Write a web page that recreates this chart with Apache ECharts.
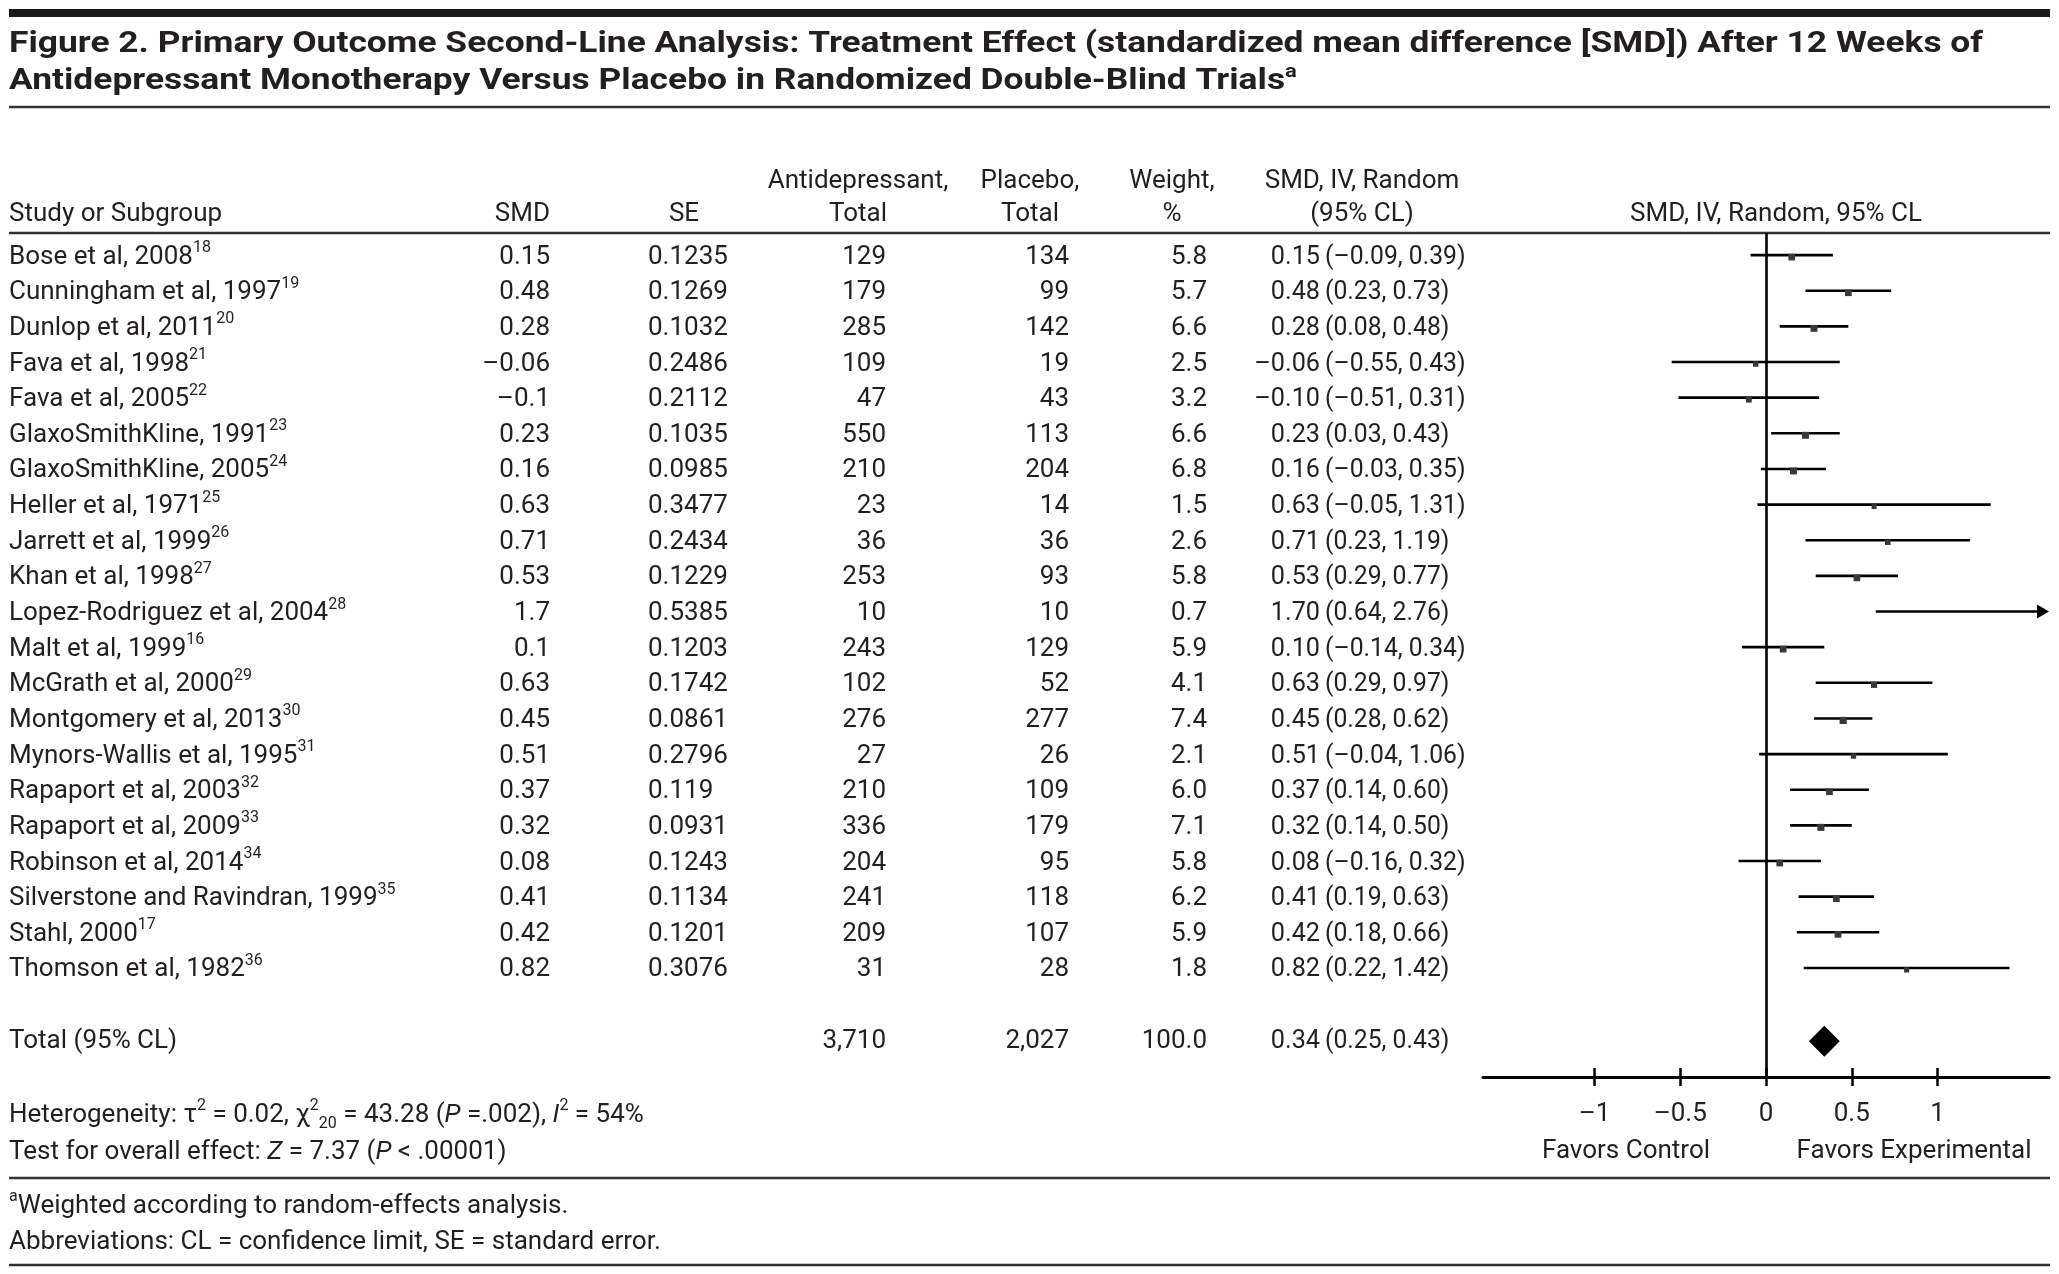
<!DOCTYPE html>
<html><head><meta charset="utf-8">
<script src="https://cdn.jsdelivr.net/npm/echarts@6/dist/echarts.min.js"></script>
<style>html,body{margin:0;padding:0;background:#fff;}#c{width:2059px;height:1274px;}</style>
</head><body><div id="c"></div>
<script>
// ---------------- data ----------------
const studies = ["Bose et al, 2008","Cunningham et al, 1997","Dunlop et al, 2011","Fava et al, 1998","Fava et al, 2005","GlaxoSmithKline, 1991","GlaxoSmithKline, 2005","Heller et al, 1971","Jarrett et al, 1999","Khan et al, 1998","Lopez-Rodriguez et al, 2004","Malt et al, 1999","McGrath et al, 2000","Montgomery et al, 2013","Mynors-Wallis et al, 1995","Rapaport et al, 2003","Rapaport et al, 2009","Robinson et al, 2014","Silverstone and Ravindran, 1999","Stahl, 2000","Thomson et al, 1982"];
const refs = ["18","19","20","21","22","23","24","25","26","27","28","16","29","30","31","32","33","34","35","17","36"];
const smd = [0.15,0.48,0.28,-0.06,-0.1,0.23,0.16,0.63,0.71,0.53,1.7,0.1,0.63,0.45,0.51,0.37,0.32,0.08,0.41,0.42,0.82];
const se = ["0.1235","0.1269","0.1032","0.2486","0.2112","0.1035","0.0985","0.3477","0.2434","0.1229","0.5385","0.1203","0.1742","0.0861","0.2796","0.119","0.0931","0.1243","0.1134","0.1201","0.3076"];
const antiTotal = [129,179,285,109,47,550,210,23,36,253,10,243,102,276,27,210,336,204,241,209,31];
const placeboTotal = [134,99,142,19,43,113,204,14,36,93,10,129,52,277,26,109,179,95,118,107,28];
const weight = [5.8,5.7,6.6,2.5,3.2,6.6,6.8,1.5,2.6,5.8,0.7,5.9,4.1,7.4,2.1,6.0,7.1,5.8,6.2,5.9,1.8];
const ciLow = [-0.09,0.23,0.08,-0.55,-0.51,0.03,-0.03,-0.05,0.23,0.29,0.64,-0.14,0.29,0.28,-0.04,0.14,0.14,-0.16,0.19,0.18,0.22];
const ciHigh = [0.39,0.73,0.48,0.43,0.31,0.43,0.35,1.31,1.19,0.77,2.76,0.34,0.97,0.62,1.06,0.60,0.50,0.32,0.63,0.66,1.42];
const totalLabel = "Total (95% CL)";
const totalAnti = 3710, totalPlacebo = 2027, totalWeight = 100.0;
const totalEst = 0.34, totalLow = 0.25, totalHigh = 0.43;
const xTicks = [-1, -0.5, 0, 0.5, 1];

// ---------------- layout / style ----------------
const FONT = 'Roboto';
const INK = '#231f20';
const FS = 26;
const DY = 2;
const X_MIN = -1.65, X_MAX = 1.65;
const TOTAL_ROW = studies.length + 2;
const COL = {name: 9, smdR: 550, seL: 648, seH: 684, antiR: 886, antiH: 858, placR: 1069, placH: 1030, wR: 1207, wH: 1172, estR: 1320, ciL: 1325, ciH: 1362, plotH: 1776};

const dash = v => (v < 0 ? '\u2013' : '') + Math.abs(v);
const f2 = v => (v < 0 ? '\u2013' : '') + Math.abs(v).toFixed(2);
const thousands = n => String(n).replace(/\B(?=(\d{3})+(?!\d))/g, ',');

const RICH = {
  sup: {fontSize: 16, fontFamily: FONT, lineHeight: 20, verticalAlign: 'top', fill: INK},
  sub: {fontSize: 16, fontFamily: FONT, lineHeight: 20, verticalAlign: 'bottom', fill: INK},
  i: {fontSize: FS, fontFamily: FONT, fontStyle: 'italic', lineHeight: 34, fill: INK},
  n: {fontSize: FS, fontFamily: FONT, lineHeight: 34, fill: INK}
};

function txt(x, y, text, align, sx) {
  return {
    type: 'text', x: x, y: y + DY, scaleX: sx || 1,
    style: {text: text, align: align || 'left', verticalAlign: 'middle', fontSize: FS, fontFamily: FONT, fill: INK, lineHeight: 34, rich: RICH}
  };
}

// title: horizontal fit so the first line spans the same width as the original
const TITLE_FONT = 'bold 29px Roboto';
const mctx = document.createElement('canvas').getContext('2d');
mctx.font = TITLE_FONT;
const title1 = 'Figure 2. Primary Outcome Second-Line Analysis: Treatment Effect (standardized mean difference [SMD]) After 12 Weeks of';
const title2 = 'Antidepressant Monotherapy Versus Placebo in Randomized Double-Blind Trials';
const tsx = 1974 / mctx.measureText(title1).width;

function renderTable(params, api) {
  const idx = api.value(0);
  const row = api.value(1);
  const y = api.coord([0, row])[1];
  const ch = [];
  if (idx >= 0) {
    ch.push(txt(COL.name, y, '{n|' + studies[idx] + '}{sup|' + refs[idx] + '}', 'left'));
    ch.push(txt(COL.smdR, y, dash(smd[idx]), 'right'));
    ch.push(txt(COL.seL, y, se[idx], 'left'));
    ch.push(txt(COL.antiR, y, thousands(antiTotal[idx]), 'right'));
    ch.push(txt(COL.placR, y, thousands(placeboTotal[idx]), 'right'));
    ch.push(txt(COL.wR, y, weight[idx].toFixed(1), 'right'));
    ch.push(txt(COL.estR, y, f2(smd[idx]), 'right', 0.97));
    ch.push(txt(COL.ciL, y, '(' + f2(ciLow[idx]) + ', ' + f2(ciHigh[idx]) + ')', 'left', 0.95));
  } else {
    ch.push(txt(COL.name, y, totalLabel, 'left'));
    ch.push(txt(COL.antiR, y, thousands(totalAnti), 'right'));
    ch.push(txt(COL.placR, y, thousands(totalPlacebo), 'right'));
    ch.push(txt(COL.wR, y, totalWeight.toFixed(1), 'right'));
    ch.push(txt(COL.estR, y, f2(totalEst), 'right', 0.97));
    ch.push(txt(COL.ciL, y, '(' + f2(totalLow) + ', ' + f2(totalHigh) + ')', 'left', 0.95));
  }
  return {type: 'group', children: ch};
}

function renderForest(params, api) {
  const row = api.value(1);
  const lo = api.value(2), est = api.value(3), hi = api.value(4), w = api.value(5);
  const y = api.coord([0, row])[1];
  const xMax = api.coord([X_MAX, row])[0];
  const xMin = api.coord([X_MIN, row])[0];
  const xl = Math.max(api.coord([lo, row])[0], xMin);
  let xh = api.coord([hi, row])[0];
  const ch = [];
  const arrow = xh > xMax;
  if (arrow) xh = xMax - 6;
  ch.push({type: 'line', shape: {x1: xl, y1: y, x2: xh, y2: y}, style: {stroke: '#000', lineWidth: 2.6}});
  if (arrow) {
    ch.push({type: 'polygon', shape: {points: [[xMax, y], [xMax - 12, y - 7], [xMax - 12, y + 7]]}, style: {fill: '#000'}});
  }
  const xe = api.coord([est, row])[0];
  if (xe >= xMin && xe <= xMax - 4) {
    const s = 3.2 + 1.45 * Math.sqrt(w);
    ch.push({type: 'rect', shape: {x: xe - s / 2, y: y + 2 - s / 2, width: s, height: s}, style: {fill: '#383838'}});
  }
  return {type: 'group', children: ch};
}

function renderDiamond(params, api) {
  const row = api.value(0);
  const p = v => api.coord([v, row]);
  const a = p(api.value(1)), m = p(api.value(2)), b = p(api.value(3));
  const h = 15.5;
  return {type: 'polygon', shape: {points: [[a[0], a[1] + 2], [m[0], m[1] + 2 - h], [b[0], b[1] + 2], [m[0], m[1] + 2 + h]]}, style: {fill: '#000'}};
}

const tableData = studies.map((s, i) => [i, i + 1]).concat([[-1, TOTAL_ROW]]);
const forestData = studies.map((s, i) => [i, i + 1, ciLow[i], smd[i], ciHigh[i], weight[i]]);

const hline = (y, w, color) => ({type: 'line', shape: {x1: 9, y1: y, x2: 2050, y2: y}, style: {stroke: color || '#333', lineWidth: w}});

const graphics = [
  {type: 'rect', shape: {x: 9, y: 9, width: 2041, height: 8}, style: {fill: '#1a1a1a'}},
  {type: 'text', x: 9, y: 45, scaleX: tsx, style: {text: title1, font: TITLE_FONT, fill: INK, align: 'left', verticalAlign: 'middle'}},
  {type: 'text', x: 9, y: 82, scaleX: tsx, style: {text: '{t|' + title2 + '}{ts|a}', align: 'left', verticalAlign: 'middle', rich: {
    t: {fontSize: 29, fontWeight: 'bold', fontFamily: FONT, lineHeight: 38, fill: INK},
    ts: {fontSize: 18, fontWeight: 'bold', fontFamily: FONT, lineHeight: 22, verticalAlign: 'top', fill: INK}}}},
  hline(107, 2.5),
  // headers
  txt(COL.name, 212, 'Study or Subgroup', 'left'),
  txt(COL.smdR, 212, 'SMD', 'right'),
  txt(COL.seH, 212, 'SE', 'center'),
  txt(COL.antiH, 179, 'Antidepressant,', 'center'),
  txt(COL.antiH, 212, 'Total', 'center'),
  txt(COL.placH, 179, 'Placebo,', 'center'),
  txt(COL.placH, 212, 'Total', 'center'),
  txt(COL.wH, 179, 'Weight,', 'center'),
  txt(COL.wH, 212, '%', 'center'),
  txt(COL.ciH, 179, 'SMD, IV, Random', 'center'),
  txt(COL.ciH, 212, '(95% CL)', 'center'),
  txt(COL.plotH, 212, 'SMD, IV, Random, 95% CL', 'center'),
  hline(233, 2.5),
  // axis side labels
  txt(1626, 1149, 'Favors Control', 'center'),
  txt(1914, 1149, 'Favors Experimental', 'center'),
  // footer
  txt(COL.name, 1113, 'Heterogeneity: \u03C4{sup|2} = 0.02, \u03C7{sup|2}{sub|20} = 43.28 ({i|P} =.002), {i|I}{sup|2} = 54%', 'left'),
  txt(COL.name, 1150, 'Test for overall effect: {i|Z} = 7.37 ({i|P} < .00001)', 'left'),
  hline(1178, 2.5),
  txt(COL.name, 1204, '{sup|a}Weighted according to random-effects analysis.', 'left'),
  txt(COL.name, 1240, 'Abbreviations: CL = confidence limit, SE = standard error.', 'left'),
  hline(1265, 2.5)
];

const chart = echarts.init(document.getElementById('c'), null, {renderer: 'canvas'});
chart.setOption({
  animation: false,
  backgroundColor: '#fff',
  grid: {left: 1483, right: 10, top: 233, bottom: 197, containLabel: false},
  xAxis: [{
    type: 'value', min: X_MIN, max: X_MAX, position: 'bottom',
    axisLine: {show: true, onZero: false, lineStyle: {color: '#000', width: 3}},
    axisTick: {show: true, customValues: xTicks, length: 9, inside: false, lineStyle: {color: '#000', width: 2.5}},
    axisLabel: {show: true, customValues: xTicks, margin: 24, fontSize: FS, fontFamily: FONT, color: INK,
      formatter: v => (v < 0 ? '\u2013' : '') + Math.abs(v)},
    splitLine: {show: false}
  }, {
    type: 'value', min: X_MIN, max: X_MAX, position: 'bottom',
    axisLine: {show: false, onZero: false},
    axisTick: {show: true, customValues: xTicks, length: 9, inside: true, lineStyle: {color: '#000', width: 2.5}},
    axisLabel: {show: false},
    splitLine: {show: false}
  }],
  yAxis: {type: 'value', inverse: true, min: 0.38, max: 24.06, show: false},
  graphic: {elements: graphics},
  series: [
    {type: 'custom', name: 'table', data: tableData, renderItem: renderTable, clip: false, silent: true,
      encode: {x: -1, y: 1}},
    {type: 'custom', name: 'forest', data: forestData, renderItem: renderForest, clip: false, silent: true,
      encode: {x: [2, 3, 4], y: 1},
      markLine: {silent: true, symbol: 'none', label: {show: false}, lineStyle: {color: '#000', width: 2.6, type: 'solid'}, data: [{xAxis: 0}]}},
    {type: 'custom', name: 'total', data: [[TOTAL_ROW, totalLow, totalEst, totalHigh]], renderItem: renderDiamond, clip: false, silent: true,
      encode: {x: [1, 2, 3], y: 0}}
  ]
});
</script></body></html>
